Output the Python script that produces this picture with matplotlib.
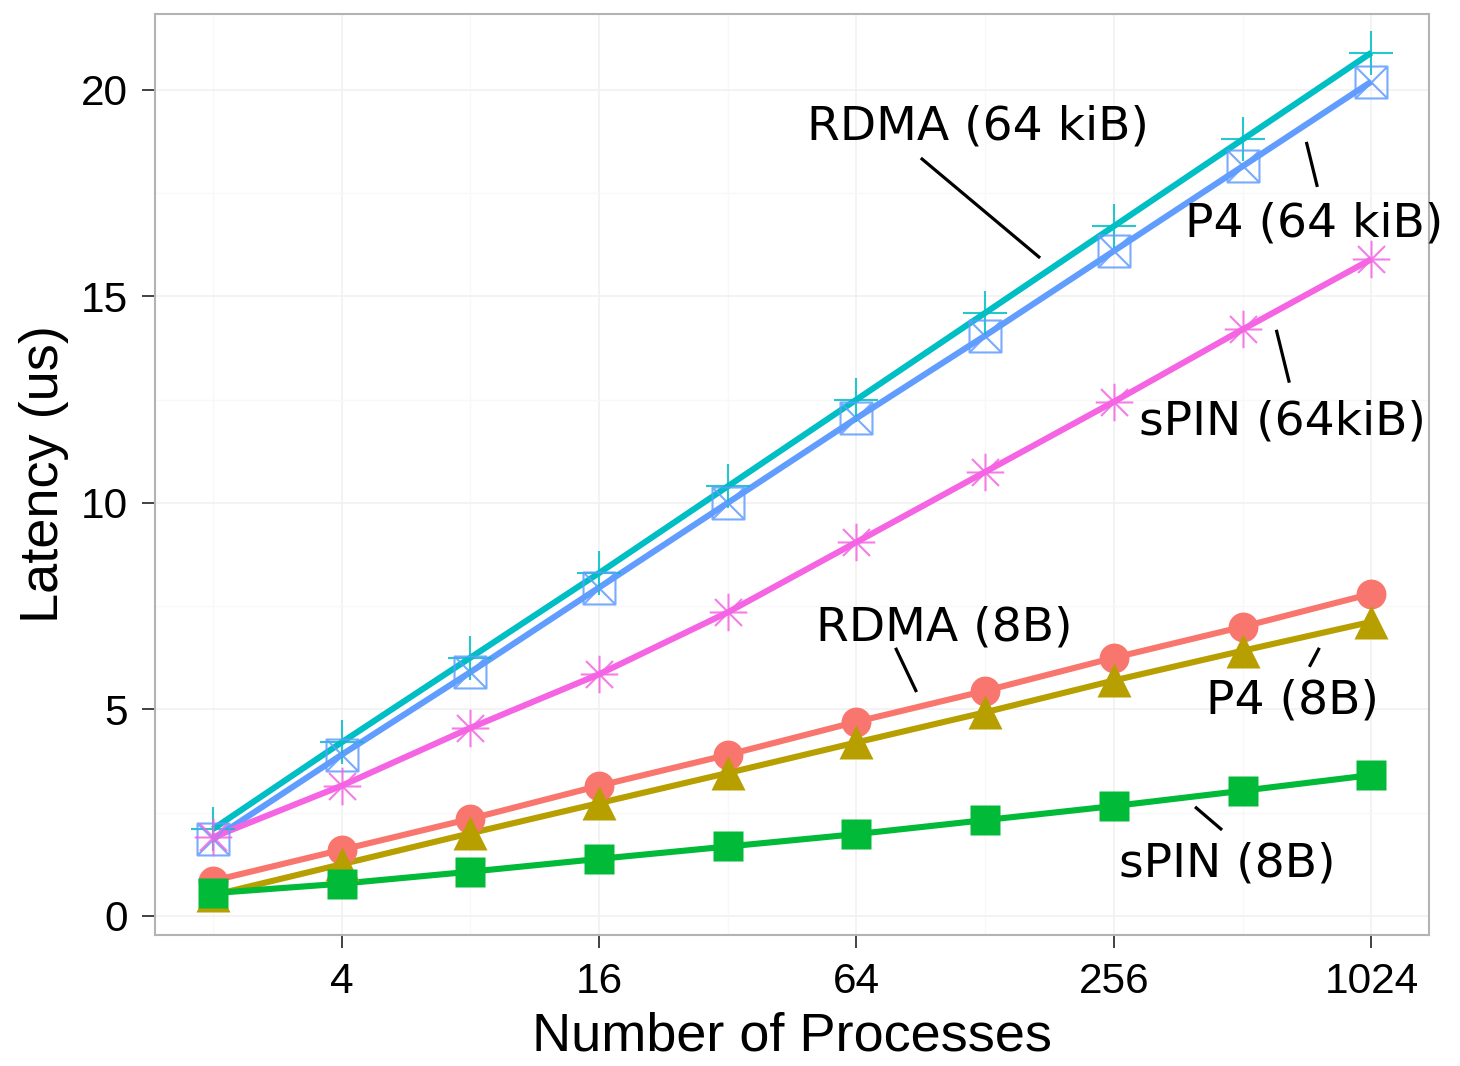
import numpy as np
import matplotlib
matplotlib.use("Agg")
import matplotlib.pyplot as plt
from matplotlib.path import Path
from matplotlib.ticker import NullFormatter

# Number of processes
procs = [2, 4, 8, 16, 32, 64, 128, 256, 512, 1024]

# Latency in microseconds
rdma_8b = [0.85, 1.6, 2.35, 3.15, 3.9, 4.7, 5.45, 6.25, 7.0, 7.8]
p4_8b = [0.5, 1.25, 2.0, 2.73, 3.46, 4.2, 4.93, 5.7, 6.42, 7.12]
spin_8b = [0.55, 0.78, 1.07, 1.38, 1.68, 1.98, 2.32, 2.66, 3.03, 3.41]
rdma_64k = [2.1, 4.2, 6.25, 8.3, 10.4, 12.5, 14.6, 16.7, 18.8, 20.9]
p4_64k = [1.85, 3.9, 5.9, 7.95, 10.0, 12.05, 14.05, 16.1, 18.15, 20.2]
spin_64k = [1.9, 3.15, 4.55, 5.85, 7.35, 9.05, 10.75, 12.45, 14.2, 15.9]

x_ticks = [4, 16, 64, 256, 1024]
y_ticks = [0, 5, 10, 15, 20]

# square with a cross inside
boxx = Path(
    [(-1, -1), (1, -1), (1, 1), (-1, 1), (-1, -1),
     (-1, -1), (1, 1), (-1, 1), (1, -1)],
    [Path.MOVETO, Path.LINETO, Path.LINETO, Path.LINETO, Path.CLOSEPOLY,
     Path.MOVETO, Path.LINETO, Path.MOVETO, Path.LINETO])
# eight-armed asterisk
d = 0.72
aster = Path(
    [(-1, 0), (1, 0), (0, -1), (0, 1), (-d, -d), (d, d), (-d, d), (d, -d)],
    [Path.MOVETO, Path.LINETO] * 4)

series = [
    (rdma_8b, "#F8766D", "o", 21.5, True),
    (p4_8b, "#B79F00", "^", 25, True),
    (spin_8b, "#00BA38", "s", 21.5, True),
    (rdma_64k, "#00BFC4", "+", 31, False),
    (p4_64k, "#619CFF", boxx, 23, False),
    (spin_64k, "#F564E3", aster, 27, False),
]

fig = plt.figure(figsize=(14.6, 10.66), dpi=100)
ax = fig.add_axes([0.106, 0.123, 0.873, 0.864])

for vals, col, mk, ms, filled in series:
    ax.plot(procs, vals, color=col, lw=4.4, solid_capstyle="butt", zorder=3)
for vals, col, mk, ms, filled in series:
    if filled:
        ax.plot(procs, vals, ls="none", marker=mk, ms=ms, color=col,
                mec="none", zorder=4)
    else:
        ax.plot(procs, vals, ls="none", marker=mk, ms=ms, mfc="none",
                mec=col, mew=1.5, alpha=0.85, zorder=4)

ax.set_xscale("log", base=2)
ax.set_xlim(2 ** 0.549, 2 ** 10.45)
ax.set_ylim(-0.46, 21.84)
ax.set_xticks(x_ticks)
ax.set_xticklabels([str(v) for v in x_ticks])
ax.set_xticks([2, 8, 32, 128, 512], minor=True)
ax.xaxis.set_minor_formatter(NullFormatter())
ax.set_yticks(y_ticks)
ax.set_yticklabels([str(v) for v in y_ticks])
ax.set_yticks([2.5, 7.5, 12.5, 17.5], minor=True)
ax.yaxis.set_minor_formatter(NullFormatter())

ax.grid(True, which="major", color="#f1f1f1", lw=1.2, zorder=0)
ax.grid(True, which="minor", color="#f8f8f8", lw=1.0, zorder=0)
ax.tick_params(which="major", length=9.5, width=1.3, color="#333333",
               pad=10, labelsize=30.5, labelcolor="black")
ax.tick_params(which="minor", length=0)
for lab in ax.get_xticklabels() + ax.get_yticklabels():
    lab.set_family("Liberation Sans")
for sp in ax.spines.values():
    sp.set_color("#b3b3b3")
    sp.set_linewidth(1.5)

ax.set_xlabel("Number of Processes", family="Liberation Sans", fontsize=39,
              labelpad=7)
ax.set_ylabel("Latency (us)", family="Liberation Sans", fontsize=39,
              labelpad=8)

# series labels with leader lines (x in processes, y in us)
labels = [
    ("RDMA (64 kiB)", 123.0, 18.79, (90.5, 18.35), (172.0, 15.93)),
    ("P4 (64 kiB)", 1024.0 * 2 ** (-57 / 128.6), 16.44,
     (1024.0 * 2 ** (-65 / 128.6), 18.74), (1024.0 * 2 ** (-54 / 128.6), 17.65)),
    ("sPIN (64kiB)", 1024.0 * 2 ** (-88.5 / 128.6), 11.65,
     (1024.0 * 2 ** (-95 / 128.6), 14.19), (1024.0 * 2 ** (-82 / 128.6), 12.91)),
    ("RDMA (8B)", 64.0 * 2 ** (88 / 128.6), 6.66,
     (64.0 * 2 ** (39 / 128.6), 6.49), (64.0 * 2 ** (60 / 128.6), 5.42)),
    ("P4 (8B)", 1024.0 * 2 ** (-79 / 128.6), 4.91,
     (1024.0 * 2 ** (-52 / 128.6), 6.49), (1024.0 * 2 ** (-62 / 128.6), 6.03)),
    ("sPIN (8B)", 256.0 * 2 ** (113 / 128.6), 0.95,
     (256.0 * 2 ** (81 / 128.6), 2.64), (256.0 * 2 ** (108 / 128.6), 2.08)),
]
for txt, tx, ty, p0, p1 in labels:
    ax.text(tx, ty, txt, ha="center", va="baseline", fontsize=34,
            family="DejaVu Sans", color="black", zorder=6)
    ax.plot([p0[0], p1[0]], [p0[1], p1[1]], color="black", lw=2.3,
            solid_capstyle="butt", zorder=6)

fig.savefig("out.png", dpi=100, facecolor="white")
